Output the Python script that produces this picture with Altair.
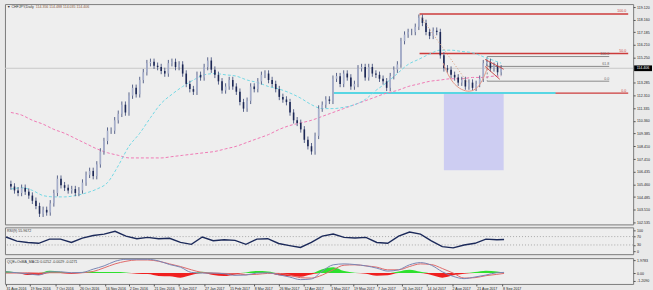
import json
import altair as alt
import pandas as pd

# ---------------- data ----------------
closes = [105.3, 105.0, 104.8, 105.2, 104.9, 104.6, 104.2, 103.8, 103.2, 103.5,
          103.3, 104.0, 104.8, 105.9, 105.4, 105.2, 105.0, 105.1, 104.8, 105.0,
          105.6, 106.2, 106.5, 106.1, 107.0, 108.0, 108.8, 109.6, 109.6, 110.4,
          110.9, 111.6, 111.0, 112.3, 112.9, 112.4, 113.5, 114.1, 114.8, 114.9,
          114.6, 114.5, 114.2, 114.0, 114.8, 114.9, 114.5, 114.7, 114.0, 113.2,
          112.8, 112.6, 113.9, 113.7, 114.5, 115.0, 114.3, 113.9, 113.4, 112.7,
          113.0, 113.5, 113.0, 112.6, 111.8, 111.3, 111.9, 113.0, 112.8, 113.4,
          113.9, 114.0, 113.5, 113.2, 112.8, 112.2, 112.0, 111.8, 111.0, 110.4,
          110.2, 109.7, 108.9, 108.4, 108.0, 109.2, 111.3, 111.6, 112.0, 111.9,
          113.6, 113.8, 113.2, 114.0, 113.7, 113.0, 113.2, 114.4, 114.5, 113.7,
          114.5, 114.0, 113.9, 113.6, 113.4, 112.9, 113.8, 114.3, 114.7, 116.5,
          117.0, 117.2, 117.2, 117.6, 118.3, 117.9, 117.2, 116.9, 117.3, 117.2,
          115.4, 114.4, 114.3, 113.9, 113.7, 113.3, 113.5, 113.0, 113.3, 112.9,
          113.2, 113.6, 114.8, 114.9, 114.4, 114.6, 114.1, 114.4]
first_open = 105.5
wick = 0.25

# indicator samples, every 3 bars plus the last bar
ma_fast = [105.1, 105.2, 105.0, 104.6, 104.5, 104.5, 104.6, 104.8, 105.1, 105.6,
           106.9, 108.4, 109.4, 110.6, 111.7, 112.4, 113.0, 113.5, 113.9, 114.0,
           113.9, 113.8, 113.5, 113.3, 113.0, 112.8, 112.5, 112.1, 111.6, 111.3,
           111.3, 111.4, 111.6, 112.0, 112.7, 113.3, 114.0, 114.7, 115.1, 115.5,
           115.8, 115.8, 115.7, 115.6, 115.3, 115.0, 114.8]
ma_slow = [111.0, 110.8, 110.4, 110.1, 109.7, 109.4, 109.0, 108.6, 108.2, 107.9,
           107.7, 107.5, 107.5, 107.5, 107.5, 107.6, 107.7, 107.8, 107.9, 108.0,
           108.2, 108.4, 108.7, 109.0, 109.3, 109.7, 110.0, 110.2, 110.4, 110.7,
           111.0, 111.3, 111.6, 111.9, 112.2, 112.5, 112.7, 113.0, 113.2, 113.4,
           113.5, 113.6, 113.6, 113.7, 113.7, 113.8, 113.8]
rsi = [68, 48, 42, 38, 58, 58, 42, 63, 75, 82, 95, 72, 60, 66, 60, 62, 42, 33, 68, 50,
       55, 52, 33, 58, 60, 37, 27, 18, 42, 72, 82, 66, 63, 66, 42, 38, 72, 92, 82, 50,
       22, 16, 30, 38, 58, 55, 56]
macd_main = [0.2, 0.05, -0.1, -0.3, 0.2, 0.2, 0.05, 0.1, 0.6, 1.1, 1.8, 2.1, 2.1, 2.1,
             1.85, 1.3, 0.9, 0.1, 0.0, 0.0, -0.1, -0.35, -0.3, 0.0, 0.05, -0.25, -0.6,
             -1.0, -0.9, 0.3, 1.26, 1.4, 1.3, 1.1, 0.75, 0.3, 0.5, 1.26, 1.6, 1.2, 0.2,
             -0.5, -0.85, -0.6, -0.3, 0.05, 0.1]
macd_signal = [0.0, 0.0, 0.05, 0.0, 0.05, 0.05, 0.0, 0.05, 0.25, 0.8, 1.4, 1.8, 2.0, 2.0,
               1.8, 1.4, 1.0, 0.5, 0.1, 0.0, -0.05, -0.1, -0.25, -0.2, -0.05, -0.05,
               -0.3, -0.7, -0.76, -0.3, 0.5, 1.2, 1.26, 1.1, 0.9, 0.5, 0.5, 1.0, 1.4,
               1.3, 0.7, 0.0, -0.76, -0.7, -0.4, -0.2, -0.05]
osma = [0.3, 0.1, -0.3, -0.3, 0.35, 0.2, -0.15, 0.15, 0.2, 0.15, 0.15, 0.1, -0.1, -0.15,
        -0.45, -0.5, -0.7, -0.3, 0.2, -0.3, -0.45, -0.2, 0.1, 0.3, 0.25, -0.35, -0.5,
        -0.55, -0.2, 0.6, 0.9, 0.3, 0.05, -0.1, -0.4, -0.35, 0.25, 0.5, 0.2, -0.3, -0.7,
        -0.35, -0.1, 0.15, 0.35, 0.25, 0.05]

price_ticks = [119.120, 118.160, 117.185, 116.210, 115.250, 113.285, 112.310, 111.335,
               110.360, 109.385, 108.410, 107.410, 106.435, 105.460, 104.485, 103.510,
               102.535]
rsi_ticks = [100, 70, 30, 0]
rsi_levels = [70, 30]
macd_ticks = [1.9783, 0.0, -1.2090]
macd_tick_labels = ["1.9783", "0.00", "-1.2090"]
date_labels = ["31 Aug 2016", "19 Sep 2016", "7 Oct 2016", "26 Oct 2016", "16 Nov 2016",
               "2 Dec 2016", "21 Dec 2016", "9 Jan 2017", "27 Jan 2017", "15 Feb 2017",
               "8 Mar 2017", "26 Mar 2017", "12 Apr 2017", "1 May 2017", "19 May 2017",
               "7 Jun 2017", "26 Jun 2017", "14 Jul 2017", "2 Aug 2017", "21 Aug 2017",
               "8 Sep 2017"]
date_ticks = [0, 6.6, 13.7, 20.2, 27.3, 33.9, 40.7, 47.5, 54.6, 61.5, 68.3, 75.1, 82.0,
              89.3, 95.6, 102.2, 109.0, 115.8, 122.7, 129.5, 136.6]

current_price = 114.406
title_text = "CHFJPY,Daily"
title_values = "114.356 114.488 114.035 114.406"
rsi_title = "RSI(9) 55.9672"
macd_title = "QQE+OsMA_MACD 0.0252 -0.0029 -0.0271"

# drawing objects (bar index / price)
red_fib_start = 114.2
red_fib_levels = [118.59, 115.54, 112.49]
red_fib_names = ["100.0", "50.0", "0.0"]
gray_fib_start, gray_fib_end = 133.1, 167.2
gray_fib_levels = [115.31, 114.55, 113.41]
gray_fib_names = ["100.0", "61.8", "0.0"]
support_level = 112.50
support_start, support_end = 90.2, 152.2
box_x = [121.0, 137.7]
box_y = [112.50, 106.55]
diag_x = [114.2, 127.6]
diag_y = [118.5, 113.3]
arc_x = [120.8, 122.1, 124.0, 126.5, 128.9, 130.9, 132.5, 133.3]
arc_y = [114.8, 113.9, 113.1, 112.65, 112.6, 113.0, 113.9, 114.6]
flag_up_x = [132.5, 137.7]
flag_up_y = [115.09, 114.33]
flag_dn_x = [132.5, 136.6]
flag_dn_y = [114.55, 113.56]

# ---------------- tables ----------------
n = len(closes)
opens = [first_open] + closes[:-1]
bars = pd.DataFrame({"i": list(range(n)), "open": opens, "close": closes})
bars["high"] = bars[["open", "close"]].max(axis=1) + wick
bars["low"] = bars[["open", "close"]].min(axis=1) - wick
bars["up"] = bars["close"] >= bars["open"]

ind_idx = [3 * k for k in range(46)] + [n - 1]
ind = pd.DataFrame({"i": ind_idx, "fast": ma_fast, "slow": ma_slow, "rsi": rsi,
                    "macd": macd_main, "signal": macd_signal, "osma": osma})
ind["pos"] = ind["osma"].clip(lower=0)
ind["neg"] = ind["osma"].clip(upper=0)

XMAX = 172.5
XMIN = -0.273
xs = alt.Scale(domain=[XMIN, XMAX], nice=False, zero=False)
FONT = "Liberation Sans"
FS = 3.6
W = 633

red_fib = pd.DataFrame({"x": [red_fib_start] * 3, "x2": [XMAX] * 3,
                        "y": red_fib_levels, "name": red_fib_names})
gray_fib = pd.DataFrame({"x": [gray_fib_start] * 3, "x2": [gray_fib_end] * 3,
                         "y": gray_fib_levels, "name": gray_fib_names})


def raxis(values, **kw):
    return alt.Axis(orient="right", values=values, labelFontSize=FS, labelFont=FONT,
                    tickSize=2, labelPadding=1.5, domain=False, grid=False, title=None,
                    labelColor="#222", tickColor="#555", labelOverlap=False,
                    labelBound=False, **kw)


ys = alt.Scale(domain=[102.38, 119.35], nice=False, zero=False)
yax = raxis(price_ticks, format=".3f")
X = lambda f="i": alt.X(f"{f}:Q", scale=xs, axis=None)
Y = lambda f: alt.Y(f"{f}:Q", scale=ys, axis=yax)

base_bars = alt.Chart(bars)
wicks = base_bars.mark_rule(strokeWidth=1, color="#59648a").encode(
    x=X(), y=Y("low"), y2="high:Q")
bodies = base_bars.mark_bar(width=1.6).encode(
    x=X(), y=Y("open"), y2="close:Q",
    color=alt.condition("datum.up", alt.value("#a6aecb"), alt.value("#1d2855")))

cur_line = alt.Chart(pd.DataFrame({"y": [current_price]})).mark_rule(
    color="#c8c8c8", strokeWidth=1).encode(y=Y("y"))
box = alt.Chart(pd.DataFrame({"x": [box_x[0]], "x2": [box_x[1]], "y": [box_y[0]],
                              "y2": [box_y[1]]})).mark_rect(color="#cdcdf2").encode(
    x=X("x"), x2="x2", y=Y("y"), y2="y2")
red_lines = alt.Chart(red_fib).mark_rule(color="#cc3b3b", strokeWidth=1.4).encode(
    x=X("x"), x2="x2", y=Y("y"))
red_text = alt.Chart(red_fib).mark_text(color="#cc3b3b", fontSize=FS, font=FONT,
                                        align="right", baseline="bottom", dx=-2, dy=-0.5).encode(
    x=X("x2"), y=Y("y"), text="name:N")
support = alt.Chart(pd.DataFrame({"x": [support_start], "x2": [support_end],
                                  "y": [support_level]})).mark_rule(
    color="#58d6e3", strokeWidth=2).encode(x=X("x"), x2="x2", y=Y("y"))
gray_lines = alt.Chart(gray_fib).mark_rule(color="#8a8a8a", strokeWidth=1).encode(
    x=X("x"), x2="x2", y=Y("y"))
gray_vert = alt.Chart(pd.DataFrame({"x": [gray_fib_start], "y": [gray_fib_levels[0]],
                                    "y2": [gray_fib_levels[-1]]})).mark_rule(
    color="#8a8a8a", strokeDash=[2, 2]).encode(x=X("x"), y=Y("y"), y2="y2")
gray_text = alt.Chart(gray_fib).mark_text(color="#666", fontSize=FS, font=FONT,
                                          align="right", baseline="bottom", dy=-0.5).encode(
    x=X("x2"), y=Y("y"), text="name:N")

fast_line = alt.Chart(ind).mark_line(color="#74d8e4", strokeWidth=1, strokeDash=[3, 2],
                                     interpolate="monotone").encode(x=X(), y=Y("fast"))
slow_line = alt.Chart(ind).mark_line(color="#f07ab4", strokeWidth=1, strokeDash=[3, 2],
                                     interpolate="monotone").encode(x=X(), y=Y("slow"))
diag = alt.Chart(pd.DataFrame({"x": diag_x, "y": diag_y})).mark_line(
    color="#d69a78", strokeDash=[1, 2], strokeWidth=1).encode(x=X("x"), y=Y("y"))
arc = alt.Chart(pd.DataFrame({"x": arc_x, "y": arc_y})).mark_line(
    color="#e29888", strokeWidth=1, interpolate="basis").encode(x=X("x"), y=Y("y"))
flag_up = alt.Chart(pd.DataFrame({"x": flag_up_x, "y": flag_up_y})).mark_line(
    color="#c85050", strokeWidth=1).encode(x=X("x"), y=Y("y"))
flag_dn = alt.Chart(pd.DataFrame({"x": flag_dn_x, "y": flag_dn_y})).mark_line(
    color="#c85050", strokeWidth=1).encode(x=X("x"), y=Y("y"))

price_box = alt.Chart(pd.DataFrame({"y": [current_price + 0.22], "y2": [current_price - 0.22]})).mark_rect(
    color="#000000").encode(x=alt.value(W + 1), x2=alt.value(W + 19), y=Y("y"), y2="y2")
price_lbl = alt.Chart(pd.DataFrame({"y": [current_price], "t": [f"{current_price:.3f}"]})).mark_text(
    color="white", fontSize=FS, font=FONT, align="left", baseline="middle").encode(
    x=alt.value(W + 3.5), y=Y("y"), text="t:N")
ttl1 = alt.Chart(pd.DataFrame({"t": ["\u25bc " + title_text]})).mark_text(
    fontSize=FS, font=FONT, align="left", baseline="middle", color="#333").encode(
    x=alt.value(2), y=alt.value(3), text="t:N")
ttl2 = alt.Chart(pd.DataFrame({"t": [title_values]})).mark_text(
    fontSize=FS, font=FONT, align="left", baseline="middle", color="#8a5a40").encode(
    x=alt.value(31), y=alt.value(3), text="t:N")

main = alt.layer(cur_line, box, red_lines, red_text, support, gray_lines, gray_vert,
                 gray_text, slow_line, fast_line, wicks, bodies, diag, arc, flag_up,
                 flag_dn, price_box, price_lbl, ttl1, ttl2).properties(width=W, height=222)

# ---------------- RSI ----------------
rs = alt.Scale(domain=[-14, 114], nice=False, zero=False)
rax = raxis(rsi_ticks)
RY = lambda f: alt.Y(f"{f}:Q", scale=rs, axis=rax)
rsi_lv = alt.Chart(pd.DataFrame({"y": rsi_levels})).mark_rule(
    color="#a8a8a8", strokeDash=[1, 2]).encode(y=RY("y"))
rsi_line = alt.Chart(ind).mark_line(color="#1c2a5a", strokeWidth=1.4).encode(
    x=X(), y=RY("rsi"))
rsi_t = alt.Chart(pd.DataFrame({"t": [rsi_title]})).mark_text(
    fontSize=FS, font=FONT, align="left", baseline="middle", color="#333").encode(
    x=alt.value(2), y=alt.value(3.5), text="t:N")
rsi_chart = alt.layer(rsi_lv, rsi_line, rsi_t).properties(width=W, height=27)

# ---------------- MACD ----------------
ms = alt.Scale(domain=[-1.66, 2.28], nice=False, zero=False)
label_map = json.dumps(macd_tick_labels)
tick_map = json.dumps(macd_ticks)
mx = raxis(macd_ticks, labelExpr=f"{label_map}[indexof({tick_map}, datum.value)]")
dl = json.dumps(date_labels)
dt = json.dumps(date_ticks)
xax = alt.Axis(values=date_ticks, labelExpr=f"{dl}[indexof({dt}, datum.value)]",
               labelAlign="left", labelFontSize=FS, labelFont=FONT, tickSize=2,
               labelPadding=0.5, domain=False, grid=False, title=None,
               labelColor="#222", tickColor="#555", labelOverlap=False, labelFlush=False,
               labelBound=False)
MX = lambda f="i": alt.X(f"{f}:Q", scale=xs, axis=xax)
MY = lambda f: alt.Y(f"{f}:Q", scale=ms, axis=mx)
pos_area = alt.Chart(ind).mark_area(color="#2ee02e", interpolate="monotone").encode(
    x=MX(), y=MY("pos"), y2=alt.datum(0))
neg_area = alt.Chart(ind).mark_area(color="#f01f1f", interpolate="monotone").encode(
    x=MX(), y=MY("neg"), y2=alt.datum(0))
sig_line = alt.Chart(ind).mark_line(color="#e06a6a", strokeWidth=1, interpolate="monotone").encode(
    x=MX(), y=MY("signal"))
macd_line = alt.Chart(ind).mark_line(color="#7a86b4", strokeWidth=1, interpolate="monotone").encode(
    x=MX(), y=MY("macd"))
macd_t = alt.Chart(pd.DataFrame({"t": [macd_title]})).mark_text(
    fontSize=FS, font=FONT, align="left", baseline="middle", color="#333").encode(
    x=alt.value(2), y=alt.value(3.5), text="t:N")
macd_chart = alt.layer(pos_area, neg_area, sig_line, macd_line, macd_t).properties(
    width=W, height=26)

chart = alt.vconcat(main, rsi_chart, macd_chart, spacing=1).properties(
    padding={"left": 2, "top": 2, "right": 0, "bottom": 0},
    background="#e9e9e9",
).configure_view(stroke="#7c7c7c", strokeWidth=1, fill="#eeeeee").configure_axis(
    labelOverlap=False)

chart.save("out.html", embed_options={"renderer": "svg", "actions": False})
